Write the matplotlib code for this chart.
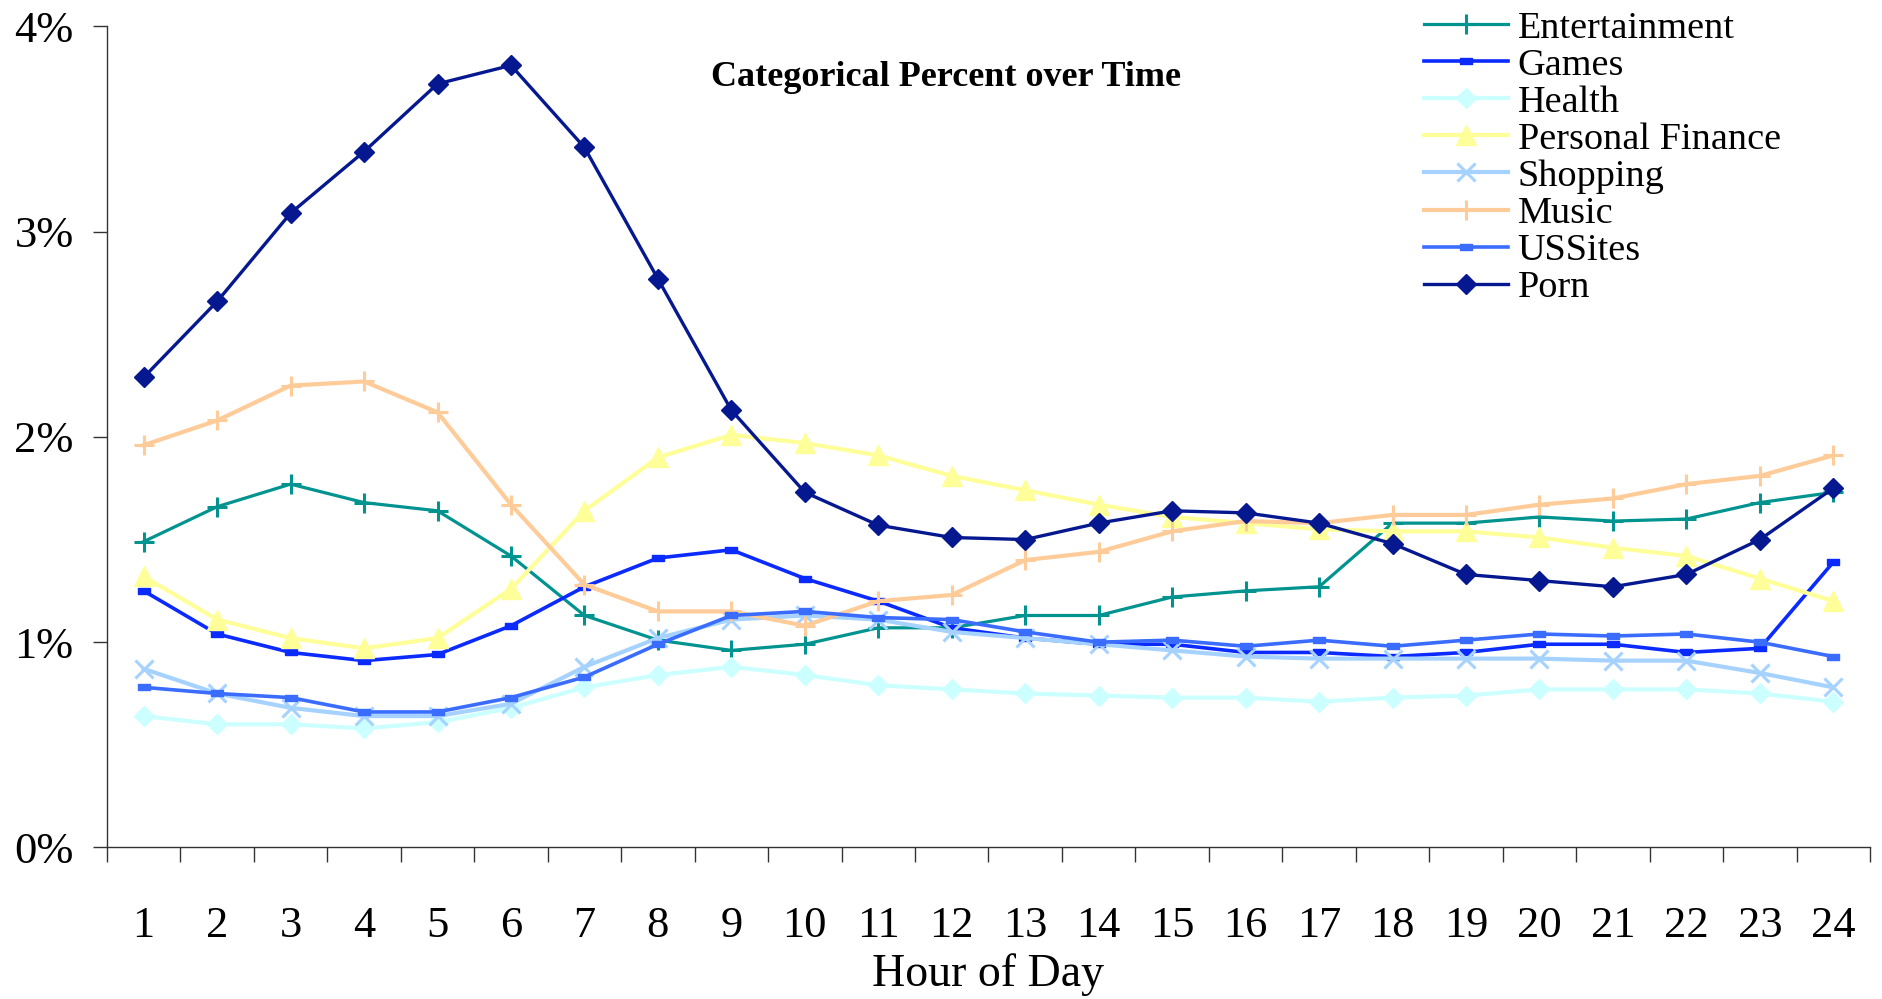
import matplotlib
matplotlib.use("Agg")
import matplotlib.pyplot as plt
from matplotlib.ticker import FixedLocator, PercentFormatter

plt.rcParams['font.family'] = ['Liberation Serif', 'DejaVu Serif']

hours = list(range(1, 25))

# share of traffic per category, in percent
entertainment = [1.49, 1.66, 1.77, 1.68, 1.64, 1.42, 1.13, 1.01, 0.96, 0.99, 1.07, 1.07,
                 1.13, 1.13, 1.22, 1.25, 1.27, 1.58, 1.58, 1.61, 1.59, 1.60, 1.68, 1.73]
games = [1.25, 1.04, 0.95, 0.91, 0.94, 1.08, 1.27, 1.41, 1.45, 1.31, 1.20, 1.07,
         1.02, 0.99, 0.99, 0.95, 0.95, 0.93, 0.95, 0.99, 0.99, 0.95, 0.97, 1.39]
health = [0.64, 0.60, 0.60, 0.58, 0.61, 0.68, 0.78, 0.84, 0.88, 0.84, 0.79, 0.77,
          0.75, 0.74, 0.73, 0.73, 0.71, 0.73, 0.74, 0.77, 0.77, 0.77, 0.75, 0.71]
personal_finance = [1.32, 1.11, 1.02, 0.97, 1.02, 1.26, 1.64, 1.90, 2.01, 1.97, 1.91, 1.81,
                    1.74, 1.67, 1.61, 1.58, 1.55, 1.54, 1.54, 1.51, 1.46, 1.42, 1.31, 1.20]
shopping = [0.87, 0.75, 0.68, 0.64, 0.64, 0.70, 0.88, 1.02, 1.11, 1.13, 1.11, 1.05,
            1.02, 0.99, 0.96, 0.93, 0.92, 0.92, 0.92, 0.92, 0.91, 0.91, 0.85, 0.78]
music = [1.96, 2.08, 2.25, 2.27, 2.12, 1.67, 1.28, 1.15, 1.15, 1.08, 1.20, 1.23,
         1.40, 1.44, 1.54, 1.59, 1.58, 1.62, 1.62, 1.67, 1.70, 1.77, 1.81, 1.91]
ussites = [0.78, 0.75, 0.73, 0.66, 0.66, 0.73, 0.83, 0.99, 1.13, 1.15, 1.12, 1.11,
           1.05, 1.00, 1.01, 0.98, 1.01, 0.98, 1.01, 1.04, 1.03, 1.04, 1.00, 0.93]
porn = [2.29, 2.66, 3.09, 3.39, 3.72, 3.81, 3.41, 2.77, 2.13, 1.73, 1.57, 1.51,
        1.50, 1.58, 1.64, 1.63, 1.58, 1.48, 1.33, 1.30, 1.27, 1.33, 1.50, 1.75]

# flat rectangle used for the square-ish Excel markers
flat_box = [(-1, -0.5), (1, -0.5), (1, 0.5), (-1, 0.5), (-1, -0.5)]

series = [
    ("Entertainment", entertainment, dict(color="#009390", marker="+", ms=15, mew=2.2, lw=2.3)),
    ("Games", games, dict(color="#0A2AFF", marker=flat_box, ms=8, lw=2.6)),
    ("Health", health, dict(color="#CCFFFF", marker="D", ms=10, lw=3.0)),
    ("Personal Finance", personal_finance, dict(color="#FFFF99", marker="^", ms=14, lw=3.0)),
    ("Shopping", shopping, dict(color="#A6D2FF", marker="x", ms=13, mew=2.2, lw=3.0)),
    ("Music", music, dict(color="#FFCC99", marker="+", ms=15, mew=2.2, lw=3.0)),
    ("USSites", ussites, dict(color="#3A6CFF", marker=flat_box, ms=8, lw=2.6)),
    ("Porn", porn, dict(color="#061890", marker="D", ms=10, lw=2.4)),
]

fig = plt.figure(figsize=(18.83, 9.99), dpi=100)
ax = fig.add_axes([0.0568, 0.1517, 0.9363, 0.8219])

for name, vals, style in series:
    ax.plot(hours, [v / 100 for v in vals], label=name, **style)

ax.set_xlim(0.5, 24.5)
ax.set_ylim(0, 0.04)

ax.yaxis.set_major_locator(FixedLocator([0, 0.01, 0.02, 0.03, 0.04]))
ax.yaxis.set_major_formatter(PercentFormatter(1.0, decimals=0))
ax.tick_params(axis="y", direction="out", length=10, width=1, color="#333333",
               labelsize=32, pad=14)

# category labels in the middle, tick marks on the boundaries
ax.set_xticks(hours)
ax.set_xticks([h - 0.5 for h in hours] + [24.5], minor=True)
ax.tick_params(axis="x", which="major", length=0, labelsize=32, pad=42)
ax.tick_params(axis="x", which="minor", direction="out", length=11, width=1, color="#333333")

for side in ("top", "right"):
    ax.spines[side].set_visible(False)
for side in ("left", "bottom"):
    ax.spines[side].set_color("#333333")
    ax.spines[side].set_linewidth(1)

ax.set_xlabel("Hour of Day", fontsize=33, labelpad=5)
ax.text(0.476, 0.938, "Categorical Percent over Time", transform=ax.transAxes,
        ha="center", va="center", fontsize=26, fontweight="bold")

ax.legend(loc="upper left", bbox_to_anchor=(1424 / 1883, 1 - 11 / 999),
          bbox_transform=fig.transFigure, frameon=False, fontsize=27.5,
          borderpad=0, borderaxespad=0, handlelength=2.2, handletextpad=0.25,
          labelspacing=0.06)

fig.savefig("out.png", dpi=100, facecolor="white")
